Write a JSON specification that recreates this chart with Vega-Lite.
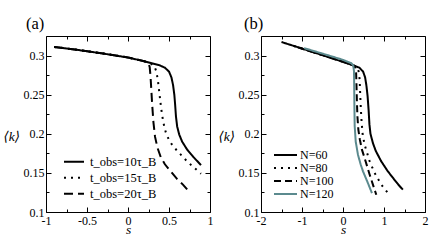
{
  "$schema": "https://vega.github.io/schema/vega-lite/v6.json",
  "padding": {"left": 2, "top": 15, "right": 5, "bottom": 5},
  "bounds": "flush",
  "spacing": 51,
  "resolve": {"scale": {"color": "independent", "strokeDash": "independent"}, "legend": {"color": "independent", "strokeDash": "independent"}},
  "config": {
    "view": {"stroke": "black", "strokeWidth": 1},
    "font": "'Liberation Serif', 'Times New Roman', 'DejaVu Serif'",
    "axis": {
      "labelFont": "'Liberation Serif', 'Times New Roman', 'DejaVu Serif'", "labelFontSize": 12, "labelColor": "black",
      "titleFont": "'Liberation Serif', 'Times New Roman', 'DejaVu Serif'", "titleFontSize": 13.5, "titleColor": "black", "titleFontWeight": "normal",
      "tickColor": "black", "tickWidth": 1, "grid": false, "domain": false,
      "labelFlush": false, "labelOverlap": false
    },
    "legend": {
      "labelFont": "'Liberation Serif', 'Times New Roman', 'DejaVu Serif'", "labelColor": "black", "title": null
    },
    "title": {"font": "'Liberation Serif', 'Times New Roman', 'DejaVu Serif'", "fontWeight": "normal", "fontSize": 16.5, "color": "black"}
  },
  "datasets": {
    "a": [
      {"series": "t_obs=10τ_B", "s": -0.9, "k": 0.311}, {"series": "t_obs=10τ_B", "s": -0.6, "k": 0.307}, {"series": "t_obs=10τ_B", "s": -0.3, "k": 0.3025}, {"series": "t_obs=10τ_B", "s": 0, "k": 0.2975}, {"series": "t_obs=10τ_B", "s": 0.2, "k": 0.2927}, {"series": "t_obs=10τ_B", "s": 0.3, "k": 0.2898}, {"series": "t_obs=10τ_B", "s": 0.38, "k": 0.2878}, {"series": "t_obs=10τ_B", "s": 0.45, "k": 0.2845}, {"series": "t_obs=10τ_B", "s": 0.5, "k": 0.2795}, {"series": "t_obs=10τ_B", "s": 0.53, "k": 0.272}, {"series": "t_obs=10τ_B", "s": 0.55, "k": 0.262}, {"series": "t_obs=10τ_B", "s": 0.565, "k": 0.25}, {"series": "t_obs=10τ_B", "s": 0.575, "k": 0.237}, {"series": "t_obs=10τ_B", "s": 0.585, "k": 0.222}, {"series": "t_obs=10τ_B", "s": 0.6, "k": 0.209}, {"series": "t_obs=10τ_B", "s": 0.625, "k": 0.199}, {"series": "t_obs=10τ_B", "s": 0.66, "k": 0.19}, {"series": "t_obs=10τ_B", "s": 0.72, "k": 0.18}, {"series": "t_obs=10τ_B", "s": 0.8, "k": 0.17}, {"series": "t_obs=10τ_B", "s": 0.89, "k": 0.16},
      {"series": "t_obs=15τ_B", "s": -0.9, "k": 0.311}, {"series": "t_obs=15τ_B", "s": -0.6, "k": 0.307}, {"series": "t_obs=15τ_B", "s": -0.3, "k": 0.3025}, {"series": "t_obs=15τ_B", "s": 0, "k": 0.2975}, {"series": "t_obs=15τ_B", "s": 0.2, "k": 0.2927}, {"series": "t_obs=15τ_B", "s": 0.28, "k": 0.2895}, {"series": "t_obs=15τ_B", "s": 0.32, "k": 0.2865}, {"series": "t_obs=15τ_B", "s": 0.345, "k": 0.28}, {"series": "t_obs=15τ_B", "s": 0.365, "k": 0.268}, {"series": "t_obs=15τ_B", "s": 0.385, "k": 0.25}, {"series": "t_obs=15τ_B", "s": 0.405, "k": 0.232}, {"series": "t_obs=15τ_B", "s": 0.43, "k": 0.215}, {"series": "t_obs=15τ_B", "s": 0.46, "k": 0.202}, {"series": "t_obs=15τ_B", "s": 0.5, "k": 0.192}, {"series": "t_obs=15τ_B", "s": 0.55, "k": 0.184}, {"series": "t_obs=15τ_B", "s": 0.62, "k": 0.176}, {"series": "t_obs=15τ_B", "s": 0.7, "k": 0.167}, {"series": "t_obs=15τ_B", "s": 0.77, "k": 0.16}, {"series": "t_obs=15τ_B", "s": 0.89, "k": 0.149},
      {"series": "t_obs=20τ_B", "s": -0.9, "k": 0.311}, {"series": "t_obs=20τ_B", "s": -0.6, "k": 0.307}, {"series": "t_obs=20τ_B", "s": -0.3, "k": 0.3025}, {"series": "t_obs=20τ_B", "s": 0, "k": 0.2975}, {"series": "t_obs=20τ_B", "s": 0.2, "k": 0.2927}, {"series": "t_obs=20τ_B", "s": 0.25, "k": 0.2905}, {"series": "t_obs=20τ_B", "s": 0.265, "k": 0.285}, {"series": "t_obs=20τ_B", "s": 0.275, "k": 0.273}, {"series": "t_obs=20τ_B", "s": 0.285, "k": 0.255}, {"series": "t_obs=20τ_B", "s": 0.295, "k": 0.237}, {"series": "t_obs=20τ_B", "s": 0.31, "k": 0.215}, {"series": "t_obs=20τ_B", "s": 0.33, "k": 0.196}, {"series": "t_obs=20τ_B", "s": 0.36, "k": 0.182}, {"series": "t_obs=20τ_B", "s": 0.4, "k": 0.17}, {"series": "t_obs=20τ_B", "s": 0.45, "k": 0.161}, {"series": "t_obs=20τ_B", "s": 0.52, "k": 0.152}, {"series": "t_obs=20τ_B", "s": 0.6, "k": 0.142}, {"series": "t_obs=20τ_B", "s": 0.67, "k": 0.135}, {"series": "t_obs=20τ_B", "s": 0.73, "k": 0.128}
    ],
    "b": [
      {"series": "N=60", "s": -1.5, "k": 0.3173}, {"series": "N=60", "s": -1, "k": 0.309}, {"series": "N=60", "s": -0.5, "k": 0.3005}, {"series": "N=60", "s": 0, "k": 0.292}, {"series": "N=60", "s": 0.25, "k": 0.2875}, {"series": "N=60", "s": 0.4, "k": 0.2845}, {"series": "N=60", "s": 0.49, "k": 0.2795}, {"series": "N=60", "s": 0.54, "k": 0.272}, {"series": "N=60", "s": 0.57, "k": 0.262}, {"series": "N=60", "s": 0.6, "k": 0.248}, {"series": "N=60", "s": 0.625, "k": 0.23}, {"series": "N=60", "s": 0.645, "k": 0.212}, {"series": "N=60", "s": 0.67, "k": 0.2}, {"series": "N=60", "s": 0.73, "k": 0.188}, {"series": "N=60", "s": 0.8, "k": 0.178}, {"series": "N=60", "s": 0.93, "k": 0.165}, {"series": "N=60", "s": 1.08, "k": 0.153}, {"series": "N=60", "s": 1.22, "k": 0.1435}, {"series": "N=60", "s": 1.35, "k": 0.135}, {"series": "N=60", "s": 1.46, "k": 0.1285},
      {"series": "N=80", "s": -1.2, "k": 0.3122}, {"series": "N=80", "s": -1, "k": 0.309}, {"series": "N=80", "s": -0.5, "k": 0.3005}, {"series": "N=80", "s": 0, "k": 0.292}, {"series": "N=80", "s": 0.25, "k": 0.2875}, {"series": "N=80", "s": 0.34, "k": 0.2855}, {"series": "N=80", "s": 0.38, "k": 0.28}, {"series": "N=80", "s": 0.405, "k": 0.27}, {"series": "N=80", "s": 0.42, "k": 0.25}, {"series": "N=80", "s": 0.435, "k": 0.232}, {"series": "N=80", "s": 0.455, "k": 0.214}, {"series": "N=80", "s": 0.48, "k": 0.199}, {"series": "N=80", "s": 0.527, "k": 0.186}, {"series": "N=80", "s": 0.649, "k": 0.165}, {"series": "N=80", "s": 0.771, "k": 0.15}, {"series": "N=80", "s": 0.934, "k": 0.135}, {"series": "N=80", "s": 1.1, "k": 0.124},
      {"series": "N=100", "s": -1.1, "k": 0.3105}, {"series": "N=100", "s": -0.5, "k": 0.3005}, {"series": "N=100", "s": 0, "k": 0.292}, {"series": "N=100", "s": 0.25, "k": 0.2875}, {"series": "N=100", "s": 0.3, "k": 0.2845}, {"series": "N=100", "s": 0.32, "k": 0.278}, {"series": "N=100", "s": 0.33, "k": 0.26}, {"series": "N=100", "s": 0.34, "k": 0.24}, {"series": "N=100", "s": 0.352, "k": 0.222}, {"series": "N=100", "s": 0.375, "k": 0.205}, {"series": "N=100", "s": 0.41, "k": 0.193}, {"series": "N=100", "s": 0.46, "k": 0.18}, {"series": "N=100", "s": 0.527, "k": 0.169}, {"series": "N=100", "s": 0.649, "k": 0.148}, {"series": "N=100", "s": 0.73, "k": 0.135}, {"series": "N=100", "s": 0.812, "k": 0.122},
      {"series": "N=120", "s": -0.95, "k": 0.3095}, {"series": "N=120", "s": -0.5, "k": 0.3025}, {"series": "N=120", "s": 0, "k": 0.2945}, {"series": "N=120", "s": 0.2, "k": 0.2903}, {"series": "N=120", "s": 0.25, "k": 0.2875}, {"series": "N=120", "s": 0.268, "k": 0.28}, {"series": "N=120", "s": 0.273, "k": 0.26}, {"series": "N=120", "s": 0.278, "k": 0.235}, {"series": "N=120", "s": 0.285, "k": 0.21}, {"series": "N=120", "s": 0.31, "k": 0.19}, {"series": "N=120", "s": 0.366, "k": 0.173}, {"series": "N=120", "s": 0.43, "k": 0.161}, {"series": "N=120", "s": 0.488, "k": 0.152}, {"series": "N=120", "s": 0.6, "k": 0.138}, {"series": "N=120", "s": 0.707, "k": 0.124}
    ]
  },
  "hconcat": [
    {
      "width": 164, "height": 176,
      "title": {"text": "(a)", "anchor": "start", "frame": "group", "dx": -20, "offset": -9.5, "baseline": "alphabetic"},
      "data": {"name": "a"},
      "layer": [
        {
          "mark": {"type": "line", "strokeWidth": 2, "strokeCap": "butt"},
          "encoding": {
            "x": {"field": "s", "type": "quantitative", "scale": {"domain": [-1, 1], "nice": false, "zero": false},
              "axis": {"orient": "bottom", "values": [-1, -0.75, -0.5, -0.25, 0, 0.25, 0.5, 0.75, 1],
                "labelExpr": "abs(datum.value*2-round(datum.value*2))<0.001 ? toString(datum.value) : ''",
                "tickSize": {"condition": {"test": "abs(datum.value*2-round(datum.value*2))<0.001", "value": -5}, "value": -3},
                "labelPadding": 8, "title": "s", "titleFontStyle": "italic", "titleY": 21, "titleBaseline": "alphabetic"}},
            "y": {"field": "k", "type": "quantitative", "scale": {"domain": [0.1, 0.325], "nice": false, "zero": false},
              "axis": {"orient": "left", "values": [0.1, 0.125, 0.15, 0.175, 0.2, 0.225, 0.25, 0.275, 0.3],
                "labelExpr": "abs(datum.value*20-round(datum.value*20))<0.001 ? toString(datum.value) : ''",
                "tickSize": {"condition": {"test": "abs(datum.value*20-round(datum.value*20))<0.001", "value": -5}, "value": -3},
                "labelPadding": 7, "title": "⟨k⟩", "titleFontStyle": "italic", "titleAngle": 0, "titleX": -43, "titleY": 100, "titleAlign": "left", "titleBaseline": "middle"}},
            "color": {"field": "series", "type": "nominal",
              "scale": {"domain": ["t_obs=10τ_B", "t_obs=15τ_B", "t_obs=20τ_B"], "range": ["black", "black", "black"]},
              "legend": {"orient": "none", "legendX": 17, "legendY": 118, "symbolType": "stroke", "symbolSize": 400, "symbolStrokeWidth": 2, "labelOffset": 5, "labelFontSize": 12.5, "clipHeight": 15.5, "rowPadding": 0}},
            "strokeDash": {"field": "series", "type": "nominal",
              "scale": {"domain": ["t_obs=10τ_B", "t_obs=15τ_B", "t_obs=20τ_B"], "range": [[1, 0], [2, 5], [9, 5]]},
              "legend": {"orient": "none", "legendX": 17, "legendY": 118, "symbolType": "stroke", "symbolSize": 400, "symbolStrokeWidth": 2, "labelOffset": 5, "labelFontSize": 12.5, "clipHeight": 15.5, "rowPadding": 0}}
          }
        },
        {
          "mark": {"type": "line", "opacity": 0},
          "encoding": {
            "x": {"field": "s", "type": "quantitative",
              "axis": {"orient": "top", "values": [-1, -0.75, -0.5, -0.25, 0, 0.25, 0.5, 0.75, 1], "labels": false, "title": null,
                "tickSize": {"condition": {"test": "abs(datum.value*2-round(datum.value*2))<0.001", "value": -5}, "value": -3}}},
            "y": {"field": "k", "type": "quantitative",
              "axis": {"orient": "right", "values": [0.1, 0.125, 0.15, 0.175, 0.2, 0.225, 0.25, 0.275, 0.3], "labels": false, "title": null,
                "tickSize": {"condition": {"test": "abs(datum.value*20-round(datum.value*20))<0.001", "value": -5}, "value": -3}}},
            "detail": {"field": "series", "type": "nominal"}
          }
        }
      ]
    },
    {
      "width": 164, "height": 176,
      "title": {"text": "(b)", "anchor": "start", "frame": "group", "dx": -17, "offset": -9.5, "baseline": "alphabetic"},
      "data": {"name": "b"},
      "layer": [
        {
          "mark": {"type": "line", "strokeWidth": 2, "strokeCap": "butt"},
          "encoding": {
            "x": {"field": "s", "type": "quantitative", "scale": {"domain": [-2, 2], "nice": false, "zero": false},
              "axis": {"orient": "bottom", "values": [-2, -1.5, -1, -0.5, 0, 0.5, 1, 1.5, 2],
                "labelExpr": "abs(datum.value-round(datum.value))<0.001 ? toString(datum.value) : ''",
                "tickSize": {"condition": {"test": "abs(datum.value-round(datum.value))<0.001", "value": -5}, "value": -3},
                "labelPadding": 8, "title": "s", "titleFontStyle": "italic", "titleY": 21, "titleBaseline": "alphabetic"}},
            "y": {"field": "k", "type": "quantitative", "scale": {"domain": [0.1, 0.325], "nice": false, "zero": false},
              "axis": {"orient": "left", "values": [0.1, 0.125, 0.15, 0.175, 0.2, 0.225, 0.25, 0.275, 0.3],
                "labelExpr": "abs(datum.value*20-round(datum.value*20))<0.001 ? toString(datum.value) : ''",
                "tickSize": {"condition": {"test": "abs(datum.value*20-round(datum.value*20))<0.001", "value": -5}, "value": -3},
                "labelPadding": 7, "title": "⟨k⟩", "titleFontStyle": "italic", "titleAngle": 0, "titleX": -43, "titleY": 100, "titleAlign": "left", "titleBaseline": "middle"}},
            "color": {"field": "series", "type": "nominal",
              "scale": {"domain": ["N=60", "N=80", "N=100", "N=120"], "range": ["black", "black", "black", "#5b8a8e"]},
              "legend": {"orient": "none", "legendX": 12, "legendY": 113, "symbolType": "stroke", "symbolSize": 529, "symbolStrokeWidth": 2, "labelOffset": 2, "labelFontSize": 12, "clipHeight": 11.8, "rowPadding": 0}},
            "strokeDash": {"field": "series", "type": "nominal",
              "scale": {"domain": ["N=60", "N=80", "N=100", "N=120"], "range": [[1, 0], [2, 5], [7, 4], [1, 0]]},
              "legend": {"orient": "none", "legendX": 12, "legendY": 113, "symbolType": "stroke", "symbolSize": 529, "symbolStrokeWidth": 2, "labelOffset": 2, "labelFontSize": 12, "clipHeight": 11.8, "rowPadding": 0}}
          }
        },
        {
          "mark": {"type": "line", "opacity": 0},
          "encoding": {
            "x": {"field": "s", "type": "quantitative",
              "axis": {"orient": "top", "values": [-2, -1.5, -1, -0.5, 0, 0.5, 1, 1.5, 2], "labels": false, "title": null,
                "tickSize": {"condition": {"test": "abs(datum.value-round(datum.value))<0.001", "value": -5}, "value": -3}}},
            "y": {"field": "k", "type": "quantitative",
              "axis": {"orient": "right", "values": [0.1, 0.125, 0.15, 0.175, 0.2, 0.225, 0.25, 0.275, 0.3], "labels": false, "title": null,
                "tickSize": {"condition": {"test": "abs(datum.value*20-round(datum.value*20))<0.001", "value": -5}, "value": -3}}},
            "detail": {"field": "series", "type": "nominal"}
          }
        }
      ]
    }
  ]
}
